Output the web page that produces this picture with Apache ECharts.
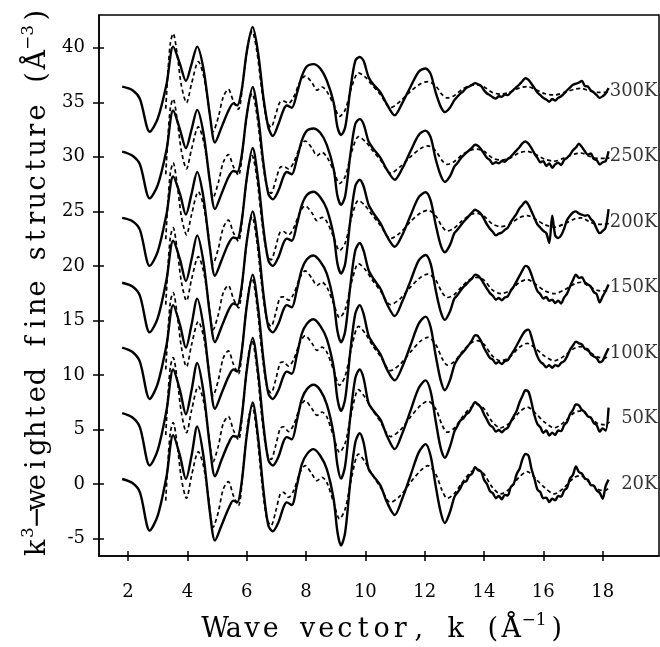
<!DOCTYPE html>
<html>
<head>
<meta charset="utf-8">
<script src="https://cdn.jsdelivr.net/npm/echarts@6/dist/echarts.min.js"></script>
<style>
html, body { margin: 0; padding: 0; background: #fff; }
#main { width: 660px; height: 647px; }
</style>
</head>
<body>
<div id="main"></div>
<script>
// wave vector grid for the measured (solid) curves, low k then the noisy high k part
var kSolid = [
    1.8, 2.15, 2.4, 2.73, 3.0, 3.3, 3.52, 3.75, 3.95, 4.14, 4.33, 4.54, 4.76, 4.93, 5.15, 5.38, 5.55, 5.68, 5.83, 6.0,
    6.2, 6.39, 6.56, 6.73, 6.88, 7.07, 7.24, 7.35, 7.52, 7.69, 7.86, 8.03, 8.25, 8.48, 8.7, 8.93, 9.06, 9.18, 9.32, 9.49,
    9.66, 9.81, 9.94, 10.11, 10.28, 10.51, 10.73, 10.99, 11.24, 11.52, 11.8, 12.03, 12.2, 12.37, 12.54, 12.68, 12.85, 13.0,
    13.1, 13.2, 13.3, 13.4, 13.5, 13.6, 13.7, 13.8, 13.9, 14.0, 14.1, 14.2, 14.3, 14.4, 14.5, 14.6, 14.7, 14.8, 14.9, 15.0,
    15.1, 15.2, 15.3, 15.4, 15.5, 15.6, 15.7, 15.8, 15.9, 16.0, 16.1, 16.2, 16.3, 16.4, 16.5, 16.6, 16.7, 16.8, 16.9, 17.0,
    17.1, 17.2, 17.3, 17.4, 17.5, 17.6, 17.7, 17.8, 17.9, 18.0, 18.1, 18.2
];
// wave vector grid for the fitted (dashed) curves
var kDash = [
    3.27, 3.35, 3.43, 3.52, 3.66, 3.8, 3.97, 4.14, 4.37, 4.54, 4.7, 4.87, 5.04, 5.21, 5.38, 5.55, 5.72, 5.89, 6.06, 6.18,
    6.34, 6.51, 6.68, 6.82, 6.97, 7.13, 7.24, 7.41, 7.58, 7.8, 7.97, 8.2, 8.37, 8.54, 8.7, 8.93, 9.13, 9.32, 9.55, 9.77,
    10.0, 10.22, 10.51, 10.85, 11.18, 11.52, 11.86, 12.11, 12.37, 12.59, 12.76, 12.99, 13.27, 13.55, 13.77, 14.0, 14.28, 14.56, 14.85, 15.18,
    15.46, 15.75, 16.03, 16.37, 16.71, 17.05, 17.27, 17.55, 17.83, 18.06, 18.23
];

var temps = ['20K', '50K', '100K', '150K', '200K', '250K', '300K'];
var offsets = [0, 6, 12, 18, 24, 30, 36];

// measured k^3 chi(k), without the vertical offset
var solid20 = [
    0.46, 0.09, -0.76, -4.27, -2.9, 0.76, 4.48, 2.59, 0.46, 2.59, 5.27, 2.59, -2.6, -5.18, -3.8, -2.29, -1.52, -1.68, 0.15, 4.42,
    7.47, 4.12, -0.46, -3.81, -4.33, -3.5, -2.13, -1.68, -1.92, -0.15, 1.83, 2.74, 3.2, 2.59, 1.37, -1.37, -4.42, -5.64, -4.42, 0.15,
    3.81, 4.66, 3.81, 1.37, 0.7, -0.15, -1.68, -2.84, -1.37, 0.76, 2.9, 3.66, 2.59, -0.15, -2.59, -3.57, -2.59, -1.2,
    -0.8, -0.4, 0.15, 0.25, 0.75, 0.95, 1.55, 1.25, 1.15, 0.4, 0.0, -0.65, -0.85, -1.3, -1.1, -1.4, -1.0, -1.05, -0.3, 0.0,
    0.9, 1.4, 2.3, 2.75, 2.6, 1.4, 0.5, -0.5, -0.75, -1.3, -1.25, -1.65, -1.35, -1.5, -1.1, -1.15, -0.6, -0.35, 0.5, 0.85,
    1.6, 1.1, 0.95, 0.5, 0.4, -0.1, -0.15, -0.6, -0.8, -1.35, -0.2, 0.4
];
var solid50 = [
    0.5, 0.1, -0.8, -4.3, -2.9, 0.8, 4.5, 2.6, 0.4, 2.6, 5.1, 2.5, -2.6, -5.3, -3.8, -2.3, -1.6, -1.7, 0.1, 4.4,
    7.4, 4.1, -0.5, -3.8, -4.3, -3.5, -2.1, -1.7, -1.9, -0.2, 1.8, 2.7, 3.1, 2.6, 1.3, -1.4, -4.3, -5.5, -4.3, 0.1,
    3.7, 4.5, 3.7, 1.4, 0.7, -0.1, -1.6, -2.8, -1.4, 0.7, 2.8, 3.5, 2.5, -0.2, -2.7, -3.6, -2.6, -1.2,
    -0.7, -0.2, 0.0, 0.4, 0.6, 1.1, 1.5, 1.3, 1.0, 0.4, -0.1, -0.6, -0.8, -1.2, -1.05, -1.25, -1.0, -0.85, -0.3, 0.2,
    0.7, 1.5, 2.1, 2.6, 2.45, 1.5, 0.3, -0.5, -0.8, -1.3, -1.1, -1.55, -1.3, -1.5, -1.1, -1.15, -0.6, -0.3, 0.4, 0.8,
    1.3, 1.2, 0.8, 0.6, 0.2, 0.1, -0.4, -0.6, -1.2, -0.9, -1.1, 1.0
];
var solid100 = [
    0.5, 0.1, -0.8, -4.2, -2.8, 0.8, 4.4, 2.6, 0.5, 2.6, 5.0, 2.5, -2.5, -5.1, -3.7, -2.2, -1.5, -1.7, 0.1, 4.3,
    7.2, 4.0, -0.5, -3.7, -4.2, -3.4, -2.1, -1.7, -1.9, -0.2, 1.8, 2.7, 3.1, 2.5, 1.3, -1.3, -4.2, -5.3, -4.2, 0.1,
    3.6, 4.4, 3.6, 1.6, 0.8, -0.1, -1.5, -2.5, -1.3, 0.7, 2.7, 3.35, 2.4, -0.2, -2.5, -3.4, -2.5, -1.1,
    -0.6, -0.2, 0.1, 0.45, 0.8, 1.2, 1.65, 1.55, 1.1, 0.5, 0.0, -0.45, -0.6, -0.95, -0.8, -1.0, -0.75, -0.65, -0.2, 0.2,
    0.7, 1.2, 1.7, 2.05, 2.15, 1.5, 0.5, -0.3, -0.8, -1.0, -1.3, -1.1, -1.35, -1.1, -1.2, -0.9, -0.75, -0.3, 0.3, 0.7,
    1.05, 0.9, 0.8, 0.4, 0.35, -0.1, -0.3, -0.45, -0.85, -0.7, -0.1, 0.45
];
var solid150 = [
    0.45, 0.1, -0.75, -4.1, -2.8, 0.8, 4.3, 2.6, 0.6, 2.6, 4.8, 2.4, -2.5, -5.0, -3.6, -2.1, -1.45, -1.6, 0.1, 4.2,
    7.0, 3.9, -0.5, -3.6, -4.1, -3.3, -2.0, -1.6, -1.8, -0.2, 1.7, 2.6, 2.95, 2.4, 1.3, -1.3, -4.0, -5.0, -4.0, 0.1,
    3.4, 4.1, 3.4, 1.6, 0.8, -0.1, -1.5, -2.6, -1.3, 0.6, 2.5, 3.0, 2.2, -0.2, -2.2, -2.95, -2.2, -1.0,
    -0.7, -0.3, 0.05, 0.3, 0.6, 0.85, 1.2, 1.1, 0.8, 0.35, -0.1, -0.5, -0.75, -1.1, -0.95, -1.15, -0.9, -0.8, -0.3, 0.1,
    0.6, 1.1, 1.6, 2.0, 1.85, 1.2, 0.4, -0.3, -0.6, -1.0, -0.85, -1.2, -1.1, -1.4, -1.2, -1.45, -0.9, -0.55, 0.1, 0.7,
    1.2, 0.9, 0.95, 0.5, 0.3, 0.1, -0.4, -0.6, -1.35, -0.8, -0.3, 0.3
];
var solid200 = [
    0.4, 0.1, -0.7, -4.0, -2.7, 0.8, 4.2, 2.6, 0.7, 2.6, 4.6, 2.3, -2.4, -4.9, -3.5, -2.0, -1.4, -1.5, 0.1, 4.0,
    6.8, 3.8, -0.5, -3.5, -4.0, -3.2, -1.9, -1.5, -1.7, -0.2, 1.6, 2.5, 2.8, 2.3, 1.2, -1.2, -3.8, -4.7, -3.8, 0.1,
    3.3, 3.9, 3.3, 1.6, 0.8, -0.1, -1.3, -2.25, -1.2, 0.6, 2.3, 2.75, 2.0, -0.2, -2.1, -2.75, -2.1, -1.0,
    -0.7, -0.35, 0.0, 0.3, 0.6, 0.9, 1.15, 1.0, 0.75, 0.3, -0.2, -0.6, -0.9, -1.2, -1.05, -0.95, -0.7, -0.5, 0.0, 0.4,
    0.8, 1.3, 1.6, 1.9, 1.6, 1.0, 0.4, -0.2, -0.5, -0.8, -1.0, -1.9, 0.6, -1.2, -1.45, -1.2, -0.6, 0.2, 0.6, 0.9,
    1.0, 0.8, 0.7, 0.6, 0.65, 0.3, 0.0, -0.6, -1.0, -0.8, -0.5, 1.2
];
var solid250 = [
    0.47, 0.1, -0.7, -3.8, -2.6, 0.7, 4.25, 2.5, 0.8, 2.5, 4.3, 2.2, -2.3, -4.8, -3.4, -1.9, -1.3, -1.4, 0.1, 3.8,
    6.4, 3.6, -0.5, -3.4, -3.9, -3.1, -1.8, -1.4, -1.6, -0.2, 1.5, 2.4, 2.6, 2.2, 1.1, -1.1, -3.6, -4.4, -3.6, 0.1,
    3.0, 3.45, 3.0, 1.4, 0.7, -0.1, -1.2, -2.1, -1.1, 0.5, 2.0, 2.4, 1.8, -0.2, -1.7, -2.3, -1.8, -0.9,
    -0.6, -0.2, 0.1, 0.35, 0.6, 0.85, 1.1, 1.0, 0.7, 0.3, -0.1, -0.3, -0.65, -0.5, -0.6, -0.4, -0.45, -0.2, 0.0, 0.3,
    0.6, 0.9, 1.25, 1.4, 1.2, 0.8, 0.3, -0.1, -0.5, -0.4, -0.85, -0.6, -1.0, -0.7, -0.55, -0.75, -0.3, -0.1, 0.2, 0.6,
    0.85, 1.2, 0.9, 0.5, 0.2, 0.3, -0.2, -0.3, -0.7, -0.5, -0.4, 0.5
];
var solid300 = [
    0.43, 0.1, -0.7, -3.7, -2.5, 0.7, 4.1, 2.5, 0.95, 2.5, 4.1, 2.1, -2.2, -4.7, -3.3, -1.8, -1.1, -1.3, 0.1, 3.6,
    5.9, 3.4, -0.5, -3.3, -4.1, -3.0, -1.7, -1.3, -1.5, -0.2, 1.4, 2.3, 2.5, 2.1, 1.0, -1.0, -3.3, -4.0, -3.3, 0.1,
    2.8, 3.15, 2.8, 1.3, 0.6, -0.1, -1.2, -2.2, -1.1, 0.4, 1.8, 2.1, 1.6, -0.1, -1.4, -1.9, -1.5, -0.8,
    -0.5, -0.2, 0.0, 0.3, 0.45, 0.6, 0.75, 0.65, 0.5, 0.1, -0.2, -0.35, -0.55, -0.65, -0.45, -0.5, -0.3, -0.35, -0.1, 0.15,
    0.4, 0.65, 0.95, 1.2, 1.05, 0.7, 0.3, -0.1, -0.35, -0.6, -0.75, -0.95, -0.7, -0.85, -0.6, -0.45, -0.2, 0.1, 0.35, 0.6,
    0.7, 0.8, 0.95, 0.5, 0.45, 0.1, -0.1, -0.35, -0.6, -0.45, -0.2, 0.3
];

// fitted curves (dashed), without the vertical offset
var dash20 = [
    -1.52, 2.29, 4.8, 5.64, 3.51, 0.46, -1.31, 0.76, 2.96, 1.68, -1.07, -3.96, -2.59, -0.46, 0.21, -1.07, -1.98, 1.68, 5.95, 7.16,
    4.73, 0.15, -3.2, -3.81, -2.59, -0.91, -0.76, -1.22, -0.61, 1.07, 1.68, 0.91, 0.3, 0.61, 0.15, -1.68, -3.2, -2.29, 0.76, 2.74,
    1.98, 0.91, -0.3, -1.68, -1.07, 0.15, 1.22, 1.68, 0.91, -0.61, -1.31, -0.91, 0.15, 1.07, 1.37, 0.91, -0.3, -0.91, -0.46, 0.61,
    1.13, 0.46, -0.3, -0.91, -0.3, 0.61, 0.76, 0.15, -0.46, -0.61, -0.3
];
var dash50 = [
    -1.5, 2.3, 4.8, 5.6, 3.5, 0.5, -1.3, 0.75, 2.95, 1.65, -1.05, -3.95, -2.55, -0.45, 0.2, -1.05, -1.95, 1.65, 5.9, 7.1,
    4.7, 0.15, -3.15, -3.75, -2.55, -0.9, -0.75, -1.2, -0.6, 1.05, 1.65, 0.9, 0.3, 0.6, 0.15, -1.65, -3.1, -2.25, 0.75, 2.65,
    1.9, 0.9, -0.3, -1.65, -1.05, 0.15, 1.2, 1.6, 0.9, -0.6, -1.25, -0.9, 0.15, 1.0, 1.3, 0.9, -0.3, -0.85, -0.45, 0.55,
    1.05, 0.45, -0.3, -0.85, -0.3, 0.55, 0.7, 0.15, -0.45, -0.55, -0.3
];
var dash100 = [
    -1.5, 2.2, 4.75, 5.55, 3.45, 0.5, -1.25, 0.75, 2.9, 1.6, -1.05, -3.9, -2.5, -0.45, 0.2, -1.0, -1.9, 1.6, 5.7, 6.85,
    4.5, 0.15, -3.05, -3.65, -2.5, -0.9, -0.8, -1.2, -0.6, 1.0, 1.6, 0.9, 0.25, 0.55, 0.1, -1.55, -2.95, -2.1, 0.7, 2.45,
    1.8, 0.8, -0.3, -1.6, -1.0, 0.1, 1.1, 1.45, 0.8, -0.5, -1.1, -0.8, 0.15, 0.9, 1.15, 0.8, -0.25, -0.7, -0.4, 0.5,
    0.9, 0.4, -0.25, -0.7, -0.25, 0.45, 0.6, 0.1, -0.35, -0.45, -0.25
];
var dash150 = [
    -1.55, 2.15, 4.7, 5.5, 3.4, 0.5, -1.2, 0.75, 2.85, 1.55, -1.0, -3.85, -2.5, -0.45, 0.2, -1.0, -1.85, 1.5, 5.4, 6.5,
    4.3, 0.15, -2.95, -3.55, -2.4, -0.9, -0.85, -1.15, -0.6, 0.95, 1.55, 0.85, 0.2, 0.5, 0.05, -1.45, -2.75, -2.0, 0.65, 2.2,
    1.65, 0.75, -0.3, -1.55, -1.0, 0.05, 0.95, 1.25, 0.7, -0.45, -0.9, -0.65, 0.15, 0.8, 0.95, 0.7, -0.2, -0.55, -0.3, 0.45,
    0.75, 0.3, -0.25, -0.55, -0.2, 0.35, 0.5, 0.1, -0.25, -0.3, -0.2
];
var dash200 = [
    -1.55, 2.1, 4.6, 5.45, 3.35, 0.5, -1.15, 0.7, 2.8, 1.55, -1.0, -3.8, -2.45, -0.5, 0.2, -0.95, -1.75, 1.45, 5.1, 6.1,
    4.1, 0.1, -2.85, -3.45, -2.35, -0.9, -0.85, -1.15, -0.55, 0.95, 1.5, 0.85, 0.15, 0.45, 0.05, -1.35, -2.6, -1.9, 0.6, 2.0,
    1.5, 0.7, -0.3, -1.5, -0.95, 0.05, 0.85, 1.1, 0.6, -0.4, -0.8, -0.55, 0.15, 0.7, 0.8, 0.55, -0.15, -0.4, -0.2, 0.4,
    0.6, 0.25, -0.2, -0.45, -0.15, 0.3, 0.4, 0.05, -0.2, -0.2, -0.1
];
var dash250 = [
    -1.6, 2.05, 4.55, 5.3, 3.3, 0.5, -1.1, 0.7, 2.75, 1.5, -1.0, -3.75, -2.4, -0.5, 0.2, -0.9, -1.7, 1.35, 4.85, 5.8,
    3.9, 0.1, -2.75, -3.35, -2.25, -0.95, -0.9, -1.1, -0.55, 0.9, 1.45, 0.8, 0.1, 0.4, 0.0, -1.25, -2.45, -1.8, 0.55, 1.85,
    1.4, 0.65, -0.3, -1.5, -0.9, 0.0, 0.75, 1.0, 0.55, -0.35, -0.7, -0.45, 0.2, 0.6, 0.7, 0.5, -0.1, -0.3, -0.15, 0.35,
    0.5, 0.2, -0.2, -0.4, -0.1, 0.25, 0.35, 0.05, -0.15, -0.15, -0.1
];
var dash300 = [
    -1.6, 2.0, 4.5, 5.3, 3.3, 0.5, -1.04, 0.7, 2.72, 1.5, -1.0, -3.7, -2.4, -0.5, 0.19, -0.9, -1.64, 1.3, 4.6, 5.5,
    3.7, 0.1, -2.7, -3.3, -2.2, -0.95, -0.9, -1.1, -0.55, 0.9, 1.4, 0.8, 0.1, 0.4, 0.0, -1.2, -2.3, -1.7, 0.5, 1.7,
    1.3, 0.6, -0.3, -1.5, -0.9, 0.0, 0.7, 0.9, 0.5, -0.3, -0.6, -0.4, 0.2, 0.55, 0.6, 0.4, -0.1, -0.25, -0.1, 0.3,
    0.43, 0.15, -0.2, -0.33, -0.1, 0.2, 0.28, 0.05, -0.1, -0.1, -0.05
];

var xTicks = [2, 4, 6, 8, 10, 12, 14, 16, 18];
var yTicks = [-5, 0, 5, 10, 15, 20, 25, 30, 35, 40];

var solidData = [solid20, solid50, solid100, solid150, solid200, solid250, solid300];
var dashData = [dash20, dash50, dash100, dash150, dash200, dash250, dash300];

var serif = 'DejaVu Serif';
var labelX = 19.85;

// pair k with chi + offset
function pairs(ks, vs, off) {
    var out = [];
    for (var i = 0; i < ks.length; i++) {
        out.push([ks[i], vs[i] + off]);
    }
    return out;
}

// every char in its own fixed cell, to get the wide spacing of the original
function spaced(str) {
    var out = '';
    for (var i = 0; i < str.length; i++) {
        out += '{c|' + str.charAt(i) + '}';
    }
    return out;
}

function nameRich(cell) {
    return {
        c: { width: cell, align: 'center', fontFamily: serif, fontSize: 27, color: '#000', lineHeight: 34 },
        s: { align: 'center', fontFamily: serif, fontSize: 17, color: '#000', padding: [0, 1, 18, 1] }
    };
}

var xName = spaced('Wave vector, k (\u00c5') + '{s|\u22121}' + spaced(')');
var yName = spaced('k') + '{s|3}' + spaced('\u2212weighted fine structure (\u00c5') + '{s|\u22123}' + spaced(')');

var series = [];
for (var i = 0; i < temps.length; i++) {
    series.push({
        type: 'line',
        name: temps[i] + ' fit',
        data: pairs(kDash, dashData[i], offsets[i]),
        showSymbol: false,
        symbol: 'none',
        smooth: 0.3,
        z: 2,
        lineStyle: { color: '#000', width: 1.7, type: [4, 3] }
    });
    series.push({
        type: 'line',
        name: temps[i],
        data: pairs(kSolid, solidData[i], offsets[i]),
        showSymbol: false,
        symbol: 'none',
        smooth: 0.3,
        z: 3,
        lineStyle: { color: '#000', width: 2.4 }
    });
}
// temperature labels at the right
series.push({
    type: 'scatter',
    symbolSize: 0,
    z: 4,
    data: temps.map(function (t, i) {
        return { name: t, value: [labelX, offsets[i]] };
    }),
    label: {
        show: true,
        position: 'left',
        distance: 0,
        formatter: '{b}',
        color: '#000',
        fontFamily: serif,
        fontSize: 18
    }
});

var axisCommon = {
    type: 'value',
    splitLine: { show: false },
    axisLine: { show: true, onZero: false, lineStyle: { color: '#000', width: 1.5 } }
};

var myChart = echarts.init(document.getElementById('main'));
var option = {
    animation: false,
    backgroundColor: '#fff',
    grid: {
        left: 99, right: 1, top: 15, bottom: 91,
        show: true, borderColor: '#000', borderWidth: 1.5,
        containLabel: false, outerBoundsMode: 'none'
    },
    xAxis: [
        echarts.util.merge({
            min: 1.02, max: 19.9, position: 'bottom',
            axisTick: { show: true, inside: false, length: 5, customValues: xTicks, lineStyle: { color: '#000', width: 1.5 } },
            axisLabel: { customValues: xTicks, margin: 27, color: '#000', fontFamily: serif, fontSize: 18 },
            name: xName,
            nameLocation: 'middle',
            nameGap: 56,
            nameTextStyle: { rich: nameRich(18.5), padding: [0, 0, 0, 14] }
        }, axisCommon, true),
        {
            type: 'value', min: 1.02, max: 19.9, position: 'bottom',
            splitLine: { show: false },
            axisLine: { show: false, onZero: false },
            axisTick: { show: true, inside: true, length: 5, customValues: xTicks, lineStyle: { color: '#000', width: 1.5 } },
            axisLabel: { show: false }
        }
    ],
    yAxis: [
        echarts.util.merge({
            min: -6.6, max: 43, position: 'left',
            axisTick: { show: true, inside: false, length: 6, customValues: yTicks, lineStyle: { color: '#000', width: 1.5 } },
            axisLabel: { customValues: yTicks, margin: 14, color: '#000', fontFamily: serif, fontSize: 18 },
            name: yName,
            nameLocation: 'middle',
            nameGap: 43,
            nameRotate: 90,
            nameTextStyle: { rich: nameRich(17.6), padding: [0, 0, 0, 8] }
        }, axisCommon, true),
        {
            type: 'value', min: -6.6, max: 43, position: 'left',
            splitLine: { show: false },
            axisLine: { show: false, onZero: false },
            axisTick: { show: true, inside: true, length: 5, customValues: yTicks, lineStyle: { color: '#000', width: 1.5 } },
            axisLabel: { show: false }
        }
    ],
    series: series
};
myChart.setOption(option);
</script>
</body>
</html>
